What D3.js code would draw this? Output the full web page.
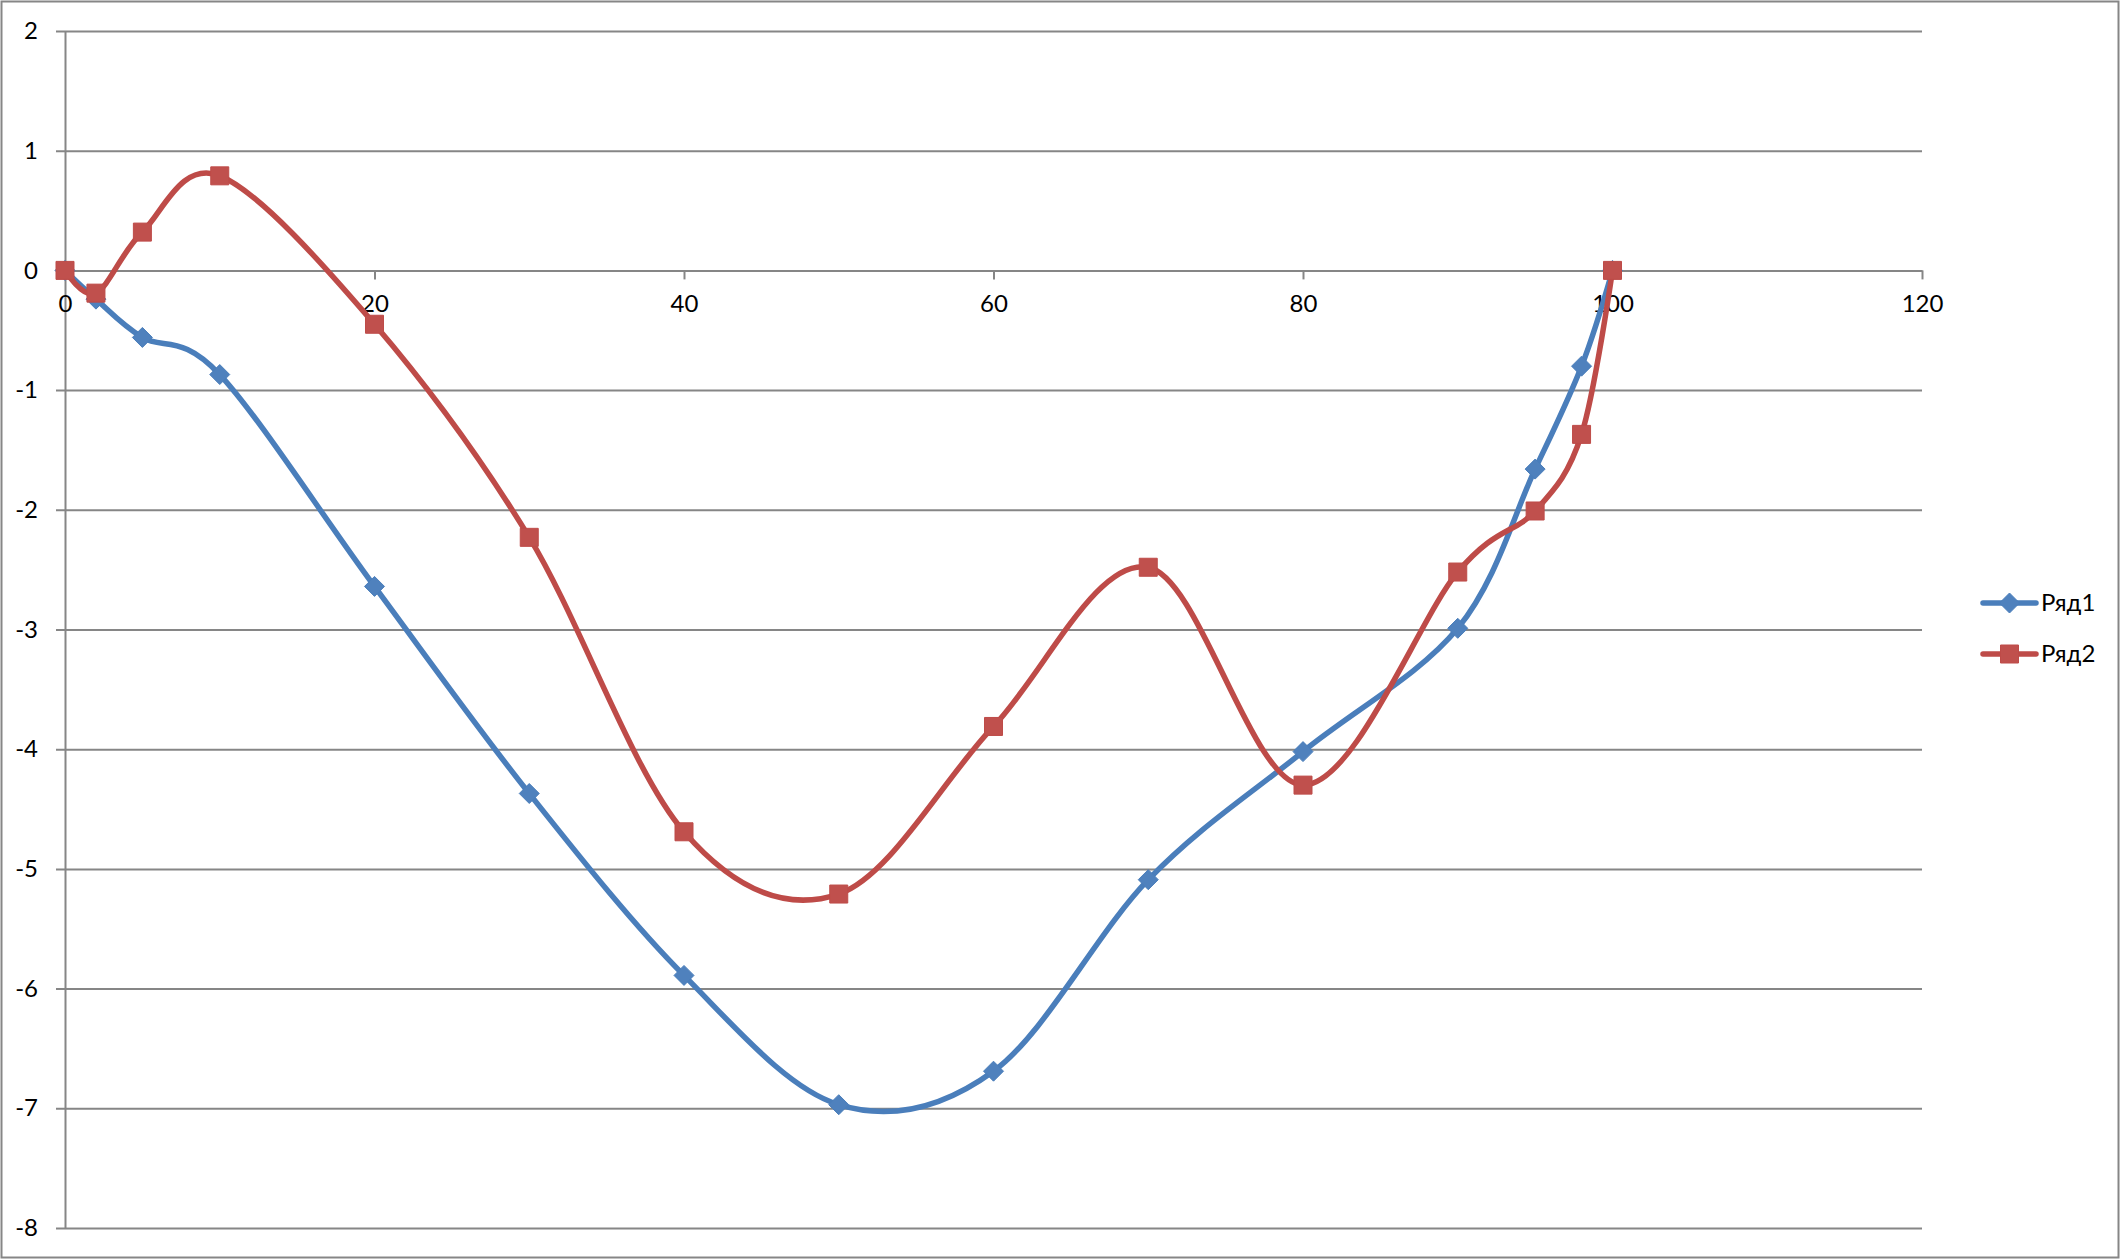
<!DOCTYPE html>
<html>
<head>
<meta charset="utf-8">
<script src="https://cdn.jsdelivr.net/npm/d3@7"></script>
<style>
  html, body { margin: 0; padding: 0; background: #fff; }
  svg { display: block; }
  text { font-family: Lato, "Liberation Sans", sans-serif; fill: #000; }
</style>
</head>
<body>
<svg id="chart" width="2123" height="1260"></svg>
<script>
const xValues = [0, 2, 5, 10, 20, 30, 40, 50, 60, 70, 80, 90, 95, 98, 100];
const series1 = [0, -0.24, -0.56, -0.87, -2.64, -4.37, -5.89, -6.97, -6.69, -5.09, -4.02, -2.99, -1.66, -0.80, 0];
const series2 = [0, -0.19, 0.32, 0.79, -0.45, -2.23, -4.69, -5.21, -3.81, -2.48, -4.30, -2.52, -2.01, -1.37, 0];
const seriesNames = ["Ряд1", "Ряд2"];
const xTicks = [0, 20, 40, 60, 80, 100, 120];
const yTicks = [2, 1, 0, -1, -2, -3, -4, -5, -6, -7, -8];

const plotLeft = 65, plotRight = 1922, plotTop = 31, plotBottom = 1228;
const gridColor = "#868686";
const fontSize = 24;
const colors = [
  { line: "#4A7EBB", fill: "#4F81BD" },
  { line: "#BE4B48", fill: "#C0504D" }
];
const fmt = d => String(d); // plain hyphen-minus as in the original

const svg = d3.select("#chart");

// outer frame
svg.append("rect")
  .attr("x", 1.5).attr("y", 1.5)
  .attr("width", 2117).attr("height", 1256)
  .attr("fill", "#fff").attr("stroke", gridColor).attr("stroke-width", 2);

const x = d3.scaleLinear().domain([0, 120]).range([plotLeft, plotRight]);
const y = d3.scaleLinear().domain([-8, 2]).range([plotBottom, plotTop]);

// horizontal gridlines + left ticks + y labels
const gy = svg.append("g")
  .attr("transform", `translate(${plotRight},0)`)
  .call(d3.axisLeft(y).tickValues(yTicks).tickSize(plotRight - 56).tickPadding(18).tickFormat(fmt));
gy.select(".domain").remove();
gy.selectAll(".tick line").attr("stroke", gridColor).attr("stroke-width", 2);
gy.selectAll(".tick text").attr("font-size", fontSize).attr("font-family", "Lato, 'Liberation Sans', sans-serif").attr("fill", "#000");

// vertical y-axis line
const gyAxis = svg.append("g")
  .attr("transform", `translate(${plotLeft},0)`)
  .call(d3.axisLeft(y).tickValues([]).tickSizeOuter(0));
gyAxis.select(".domain").attr("stroke", gridColor).attr("stroke-width", 2);

// x axis at y=0
const gx = svg.append("g")
  .attr("transform", `translate(0,${y(0)})`)
  .call(d3.axisBottom(x).tickValues(xTicks).tickSize(9).tickSizeOuter(0).tickPadding(16).tickFormat(fmt));
gx.select(".domain").attr("stroke", gridColor).attr("stroke-width", 2);
gx.selectAll(".tick line").attr("stroke", gridColor).attr("stroke-width", 2);
gx.selectAll(".tick text").attr("font-size", fontSize).attr("font-family", "Lato, 'Liberation Sans', sans-serif").attr("fill", "#000");

const line = d3.line()
  .x(d => x(d[0]))
  .y(d => y(d[1]))
  .curve(d3.curveCardinal.tension(0));

const diamond = "M0,-10L10,0L0,10L-10,0Z";
const square = "M-9,-9L9,-9L9,9L-9,9Z";
const shapes = [diamond, square];

[series1, series2].forEach((vals, i) => {
  const data = xValues.map((xv, j) => [xv, vals[j]]);
  const g = svg.append("g");
  g.append("path")
    .datum(data)
    .attr("d", line)
    .attr("fill", "none")
    .attr("stroke", colors[i].line)
    .attr("stroke-width", 5.5)
    .attr("stroke-linejoin", "round")
    .attr("stroke-linecap", "round");
  g.selectAll("path.m")
    .data(data)
    .join("path")
    .attr("class", "m")
    .attr("d", shapes[i])
    .attr("transform", d => `translate(${x(d[0])},${y(d[1])})`)
    .attr("fill", colors[i].fill)
    .attr("stroke", colors[i].line)
    .attr("stroke-width", 1);
});

// legend
const legendRows = [603, 654];
seriesNames.forEach((name, i) => {
  const g = svg.append("g").attr("transform", `translate(0,${legendRows[i]})`);
  g.append("line")
    .attr("x1", 1983).attr("x2", 2036)
    .attr("y1", 0).attr("y2", 0)
    .attr("stroke", colors[i].line).attr("stroke-width", 5.5)
    .attr("stroke-linecap", "round");
  g.append("path")
    .attr("d", shapes[i])
    .attr("transform", "translate(2009.5,0)")
    .attr("fill", colors[i].fill)
    .attr("stroke", colors[i].line)
    .attr("stroke-width", 1);
  g.append("text")
    .attr("x", 2041)
    .attr("y", 0)
    .attr("dy", "0.35em")
    .attr("font-size", fontSize)
    .text(name);
});
</script>
</body>
</html>
